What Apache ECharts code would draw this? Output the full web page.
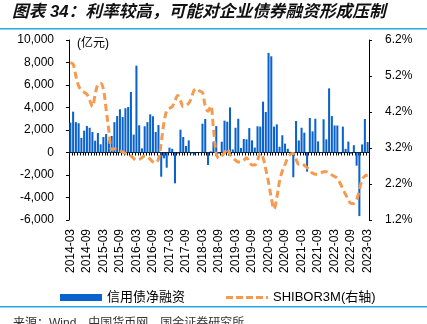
<!DOCTYPE html>
<html>
<head>
<meta charset="utf-8">
<script src="https://cdn.jsdelivr.net/npm/echarts@6/dist/echarts.min.js"></script>
<style>
html,body{margin:0;padding:0;background:#fff;}
#c{width:427px;height:324px;}
</style>
</head>
<body>
<div id="c"></div>
<script>
// Categories: monthly from 2014-03 to 2023-03
const startYear = 2014, startMonth = 3, monthCount = 109;
const months = [];
for (let k = 0; k < monthCount; k++) {
  const m = startMonth - 1 + k;
  const y = startYear + Math.floor(m / 12);
  const mm = (m % 12) + 1;
  months.push(y + '-' + (mm < 10 ? '0' + mm : '' + mm));
}

// 信用债净融资 (亿元)
const netFinancing = [
  2650, 3630, 2700, 2600, 1300, 1940, 2350, 2200, 1820, 1050,
  1730, 730, 1380, 1640, 1070, 1470, 2700, 3240, 3840, 3150,
  3930, 4040, 5380, 1590, 7720, 2420, 370, 2330, 2700, 3390,
  3220, 1820, 2440, -2150, -520, -1350, 430, 330, -2740, -100,
  2030, 1380, 580, 1080, -100, -200, 20, 50, 2560, 2980,
  -1110, 100, 960, 2350, -100, 960, 2830, 2740, 4010, 270,
  2200, 3000, 400, 1200, 1170, 2170, 1080, 440, 2330, 2300,
  4520, 3600, 8850, 8550, 2300, 2500, 510, 1530, 790, 330,
  50, -2200, 2800, 1070, 2200, 1760, -1700, 3070, 1880, 3000,
  990, -50, 2950, 1170, 5700, 3240, 2400, 2400, -100, 2300,
  320, 970, -100, 650, -1170, -5650, 720, 2980, 930
];

// SHIBOR3M (%)
const shibor3m = [
  5.57, 5.53, 5.20, 4.92, 4.80, 4.75, 4.69, 4.53, 4.35, 4.69,
  4.97, 5.00, 4.83, 4.27, 3.67, 3.16, 3.18, 3.14, 3.12, 3.09,
  3.05, 3.03, 2.98, 2.91, 2.86, 2.88, 2.93, 2.98, 2.96, 2.89,
  2.81, 2.79, 2.89, 3.35, 3.90, 4.23, 4.30, 4.35, 4.51, 4.66,
  4.52, 4.35, 4.39, 4.44, 4.60, 4.81, 4.85, 4.78, 4.74, 4.37,
  4.22, 4.37, 3.72, 3.05, 2.91, 2.98, 3.07, 3.18, 3.02, 2.93,
  2.86, 2.81, 2.81, 2.86, 2.93, 2.81, 2.73, 2.73, 2.86, 3.05,
  2.93, 2.61, 2.24, 1.82, 1.50, 1.82, 2.28, 2.56, 2.75, 2.93,
  3.03, 3.05, 2.89, 2.75, 2.77, 2.72, 2.65, 2.56, 2.50, 2.47,
  2.47, 2.50, 2.54, 2.54, 2.49, 2.45, 2.41, 2.36, 2.22, 2.07,
  1.91, 1.76, 1.66, 1.66, 1.76, 2.03, 2.33, 2.42, 2.45
];

// Tick labels
const leftTicks = [-6000, -4000, -2000, 0, 2000, 4000, 6000, 8000, 10000];
const rightTicks = [1.2, 2.2, 3.2, 4.2, 5.2, 6.2];

const FONT = '"Liberation Sans", Arial, "Noto Sans CJK SC", sans-serif';
const chart = echarts.init(document.getElementById('c'), null, {renderer: 'canvas'});

const dashIcon = 'path://M0,0L7,0L7,3L0,3Z M10,0L17,0L17,3L10,3Z M20,0L27,0L27,3L20,3Z M30,0L37,0L37,3L30,3Z M40,0L42,0L42,3L40,3Z';

const option = {
  animation: false,
  backgroundColor: '#fff',
  textStyle: {fontFamily: FONT, color: '#000'},
  grid: {left: 69, right: 58, top: 40, bottom: 104, containLabel: false},
  graphic: [
    {type: 'text', left: 12, top: 4,
     style: {text: '图表 34：利率较高，可能对企业债券融资形成压制', font: 'italic bold 16.7px ' + FONT, fill: '#111'}},
    {type: 'rect', shape: {x: 0, y: 28, width: 427, height: 1.5}, style: {fill: '#22A7E8'}},
    {type: 'rect', shape: {x: 0, y: 306, width: 427, height: 1.5}, style: {fill: '#22A7E8'}},
    {type: 'text', left: 77, top: 38,
     style: {text: '(亿元)', font: '12px ' + FONT, fill: '#000'}},
    {type: 'text', left: 13, top: 318,
     style: {text: '来源：Wind，中国货币网，国金证券研究所', font: '12px ' + FONT, fill: '#333'}}
  ],
  legend: {
    left: 55, top: 286,
    itemWidth: 42, itemHeight: 7, itemGap: 41,
    textStyle: {fontSize: 13, color: '#000', fontFamily: FONT},
    data: [
      {name: '信用债净融资', icon: 'rect'},
      {name: 'SHIBOR3M(右轴)', icon: dashIcon, itemStyle: {color: '#F59A4E'}}
    ]
  },
  xAxis: [
    {
      type: 'category', data: months, position: 'bottom',
      axisLine: {show: true, onZero: true, onZeroAxisIndex: 0, lineStyle: {color: '#000', width: 1}},
      axisTick: {show: true, interval: 0, length: 3, lineStyle: {color: '#000'}},
      axisLabel: {show: false},
      splitLine: {show: false}
    },
    {
      type: 'category', data: months, position: 'bottom',
      axisLine: {show: false, onZero: false},
      axisTick: {show: false},
      axisLabel: {show: true, interval: 5, rotate: 90, margin: 9, fontSize: 12, color: '#000', fontFamily: FONT},
      splitLine: {show: false}
    }
  ],
  yAxis: [
    {
      type: 'value', min: -6000, max: 10000, interval: 2000, position: 'left',
      axisLine: {show: true, lineStyle: {color: '#000'}},
      axisTick: {show: true, length: 3, lineStyle: {color: '#000'}},
      axisLabel: {margin: 15, fontSize: 12, color: '#000', fontFamily: FONT,
        formatter: v => v.toLocaleString('en-US')},
      splitLine: {show: false}
    },
    {
      type: 'value', min: 1.2, max: 6.2, position: 'right',
      axisLine: {show: true, lineStyle: {color: '#000'}},
      axisTick: {show: true, length: 3, customValues: rightTicks, lineStyle: {color: '#000'}},
      axisLabel: {margin: 16, fontSize: 12, color: '#000', fontFamily: FONT,
        customValues: rightTicks, formatter: v => v.toFixed(1) + '%'},
      splitLine: {show: false}
    }
  ],
  series: [
    {
      name: '信用债净融资', type: 'bar', xAxisIndex: 0, yAxisIndex: 0,
      data: netFinancing, barCategoryGap: '26%',
      itemStyle: {color: '#0A62CC'}
    },
    {
      name: 'SHIBOR3M(右轴)', type: 'line', xAxisIndex: 0, yAxisIndex: 1,
      data: shibor3m, smooth: 0.35, symbol: 'none',
      lineStyle: {color: '#F59A4E', width: 3, type: [7, 4]},
      itemStyle: {color: '#F59A4E'}
    }
  ]
};
chart.setOption(option);
</script>
</body>
</html>
